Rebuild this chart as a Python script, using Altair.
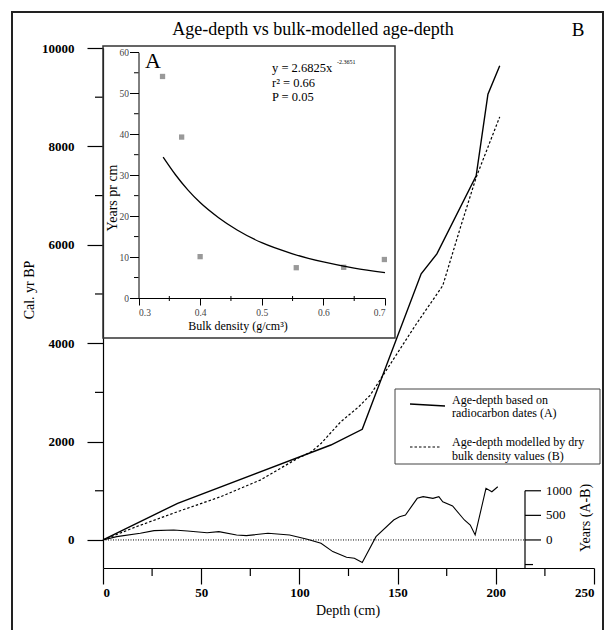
import altair as alt
import pandas as pd

# ---------------- data ----------------
depth_A = [0, 38, 116, 132, 162, 170, 190, 196, 202]
age_A = [0, 745, 1930, 2250, 5410, 5815, 7400, 9060, 9640]

depth_B = [0, 17, 38, 60, 80, 99, 106, 111, 121, 130, 136, 148, 159, 173, 182, 190, 202]
age_B = [0, 270, 575, 880, 1217, 1657, 1791, 1960, 2400, 2700, 2940, 3680, 4360, 5170, 6355, 7370, 8600]

depth_D = [0, 7, 19, 26, 36, 43, 53, 59, 68, 73, 84, 95, 104, 111, 117, 124, 128, 132,
           139, 148, 151, 154, 160, 163, 168, 171, 173, 178, 184, 187, 189.5, 195, 198, 201]
diff_D = [0, 67, 135, 189, 203, 182, 148, 169, 101, 88, 135, 101, 14, -67, -237, -351, -371, -460,
          67, 406, 473, 507, 846, 880, 846, 880, 777, 690, 406, 304, 101, 1049, 980, 1081]

bulk_density = [0.339, 0.370, 0.400, 0.556, 0.633, 0.699]
years_per_cm = [54.1, 39.3, 10.1, 7.4, 7.5, 9.4]

curve_x = [0.34, 0.36, 0.38, 0.40, 0.43, 0.46, 0.50, 0.55, 0.60, 0.65, 0.70]
curve_y = [34.4, 30.1, 26.4, 23.3, 19.6, 16.6, 13.5, 10.8, 8.8, 7.3, 6.2]

x_major = [0, 50, 100, 150, 200, 250]
x_minor = [25, 75, 125, 175, 225]
y_major = [0, 2000, 4000, 6000, 8000, 10000]
y_minor = [1000, 3000, 5000, 7000, 9000]
right_major = [1000, 500, 0]
right_labels = ["1000", "500", "0"]
right_minor = [-500]

ix_major = [0.3, 0.4, 0.5, 0.6, 0.7]
ix_minor = [0.35, 0.45, 0.55, 0.65]
iy_major = [0, 10, 20, 30, 40, 50, 60]
iy_minor = [5, 15, 25, 35, 45, 55]

FONT = "Liberation Serif"
W, H = 491, 520
one = pd.DataFrame({"k": [0]})


def xs():
    return alt.Scale(domain=[0, 250], range=[0, W], nice=False, zero=False)


def ys():
    return alt.Scale(domain=[-570, 10000], range=[H, 0], nice=False, zero=False)


def ixs():
    return alt.Scale(domain=[0.3, 0.7], range=[35.5, 282], nice=False, zero=False)


def iys():
    return alt.Scale(domain=[0, 60], range=[250, 4.3], nice=False, zero=False)


x_axis = alt.Axis(orient="bottom", values=x_major, tickSize=16, labelFont=FONT, labelFontSize=13,
                  labelFontWeight="bold", labelPadding=2, title=None, grid=False, format="d",
                  domainColor="black", tickColor="black",
                  labelColor="black", domainWidth=1.2, tickWidth=1.2)
y_axis = alt.Axis(orient="left", values=y_major, tickSize=16, labelFont=FONT, labelFontSize=13,
                  labelFontWeight="bold", labelPadding=13, title=None, grid=False, format="d",
                  domainColor="black", tickColor="black",
                  labelColor="black", domainWidth=1.2, tickWidth=1.2)
ix_axis = alt.Axis(orient="bottom", offset=-270, values=ix_major, tickSize=7, format=".1f",
                   labelFont=FONT, labelFontSize=9.5, labelColor="#444", labelPadding=2,
                   title=None, grid=False, domainColor="black", tickColor="black")
iy_axis = alt.Axis(orient="left", offset=-35.5, values=iy_major, tickSize=9, format="d",
                   labelFont=FONT, labelFontSize=9.5, labelColor="#444", labelPadding=1,
                   title=None, grid=False, domainColor="black", tickColor="black")


def txt(s, x, y, size=12, angle=0, align="center", weight="normal", baseline="middle"):
    kw = dict(align=align, baseline=baseline, font=FONT, fontSize=size, color="black",
              fontWeight=weight)
    if angle:
        kw["angle"] = angle
    return alt.Chart(one).mark_text(**kw).encode(
        x=alt.value(x), y=alt.value(y), text=alt.value(s))


def box(x, x2, y, y2, width=1.0, color="black"):
    return alt.Chart(one).mark_rect(filled=False, stroke=color, strokeWidth=width).encode(
        x=alt.value(x), x2=alt.value(x2), y=alt.value(y), y2=alt.value(y2))


def seg(x, x2, y, y2, width=1.3, dash=None):
    kw = dict(color="black", strokeWidth=width)
    if dash:
        kw["strokeDash"] = dash
    return alt.Chart(one).mark_rule(**kw).encode(
        x=alt.value(x), x2=alt.value(x2), y=alt.value(y), y2=alt.value(y2))


# ---------------- main chart ----------------
dfA = pd.DataFrame({"depth": depth_A, "age": age_A})
dfB = pd.DataFrame({"depth": depth_B, "age": age_B})
dfD = pd.DataFrame({"depth": depth_D, "age": diff_D})

line_A = alt.Chart(dfA).mark_line(color="black", strokeWidth=1.4).encode(
    x=alt.X("depth:Q", scale=xs(), axis=x_axis),
    y=alt.Y("age:Q", scale=ys(), axis=y_axis),
)
line_B = alt.Chart(dfB).mark_line(color="black", strokeWidth=1.2, strokeDash=[2.5, 2]).encode(
    x=alt.X("depth:Q", scale=xs(), axis=None),
    y=alt.Y("age:Q", scale=ys(), axis=None),
)
line_D = alt.Chart(dfD).mark_line(color="black", strokeWidth=1.1).encode(
    x=alt.X("depth:Q", scale=xs(), axis=None),
    y=alt.Y("age:Q", scale=ys(), axis=None),
)
zero_line = alt.Chart(pd.DataFrame({"v": [0]})).mark_rule(
    color="black", strokeWidth=1, strokeDash=[1, 1.5]).encode(
    y=alt.Y("v:Q", scale=ys(), axis=None), x=alt.value(0), x2=alt.value(422))

minor_x = alt.Chart(pd.DataFrame({"v": x_minor})).mark_rule(color="black", strokeWidth=1.2).encode(
    x=alt.X("v:Q", scale=xs(), axis=None), y=alt.value(H), y2=alt.value(H + 8))
minor_y = alt.Chart(pd.DataFrame({"v": y_minor})).mark_rule(color="black", strokeWidth=1.2).encode(
    y=alt.Y("v:Q", scale=ys(), axis=None), x=alt.value(-8), x2=alt.value(0))

# right-hand "Years (A-B)" axis
r_line = alt.Chart(pd.DataFrame({"a": [1000], "b": [-570]})).mark_rule(color="black", strokeWidth=1.2).encode(
    y=alt.Y("a:Q", scale=ys(), axis=None), y2="b:Q", x=alt.value(422))
r_ticks = alt.Chart(pd.DataFrame({"v": right_major})).mark_rule(color="black", strokeWidth=1.2).encode(
    y=alt.Y("v:Q", scale=ys(), axis=None), x=alt.value(422), x2=alt.value(438))
r_minor = alt.Chart(pd.DataFrame({"v": right_minor})).mark_rule(color="black", strokeWidth=1.2).encode(
    y=alt.Y("v:Q", scale=ys(), axis=None), x=alt.value(422), x2=alt.value(430))
r_labels = alt.Chart(pd.DataFrame({"v": right_major, "t": right_labels})).mark_text(
    align="left", baseline="middle", font=FONT, fontSize=13, color="black").encode(
    y=alt.Y("v:Q", scale=ys(), axis=None), x=alt.value(443), text="t:N")

frame = box(-91, 500, -36, 600, width=2, color="#222")
title = txt("Age-depth vs bulk-modelled age-depth", 210, -18, size=18)
label_B = txt("B", 475, -18, size=19)
ytitle = txt("Cal. yr BP", -73, 242, size=14, angle=270)
xtitle = txt("Depth (cm)", 245, 563, size=14)
rtitle = txt("Years (A-B)", 483, 470, size=14, angle=270)

legend_box = box(292, 497, 341, 416, width=1, color="#444")
leg_l1 = seg(307, 342, 356, 358, width=1.4)
leg_l2 = seg(307, 337, 399, 399, width=1.2, dash=[2.5, 2])
leg_t = [
    txt("Age-depth  based on", 349, 352, size=12, align="left"),
    txt("radiocarbon dates (A)", 349, 365, size=12, align="left"),
    txt("Age-depth modelled by dry", 349, 394, size=12, align="left"),
    txt("bulk density values (B)", 349, 408, size=12, align="left"),
]

# ---------------- inset chart ----------------
pts = alt.Chart(pd.DataFrame({"bd": bulk_density, "ypc": years_per_cm})).mark_square(
    size=28, color="#999999", opacity=1).encode(
    x=alt.X("bd:Q", scale=ixs(), axis=ix_axis),
    y=alt.Y("ypc:Q", scale=iys(), axis=iy_axis))
curve = alt.Chart(pd.DataFrame({"bd": curve_x, "ypc": curve_y})).mark_line(
    color="black", strokeWidth=1.3, interpolate="monotone").encode(
    x=alt.X("bd:Q", scale=ixs(), axis=None),
    y=alt.Y("ypc:Q", scale=iys(), axis=None))
i_minx = alt.Chart(pd.DataFrame({"v": ix_minor})).mark_rule(color="black", strokeWidth=1).encode(
    x=alt.X("v:Q", scale=ixs(), axis=None), y=alt.value(248), y2=alt.value(253))
i_miny = alt.Chart(pd.DataFrame({"v": iy_minor})).mark_rule(color="black", strokeWidth=1).encode(
    y=alt.Y("v:Q", scale=iys(), axis=None), x=alt.value(31), x2=alt.value(35.5))

inset_frame = box(0, 292, -2, 290, width=1.5, color="#333")
i_A = txt("A", 50, 13, size=22)
i_eq1 = txt("y = 2.6825x", 169, 20, size=12.5, align="left")
i_eq_sup = txt("-2.3651", 234, 14, size=6, align="left")
i_eq2 = txt("r\u00b2 = 0.66", 169, 35, size=12.5, align="left")
i_eq3 = txt("P = 0.05", 169, 49, size=12.5, align="left")
i_ytitle = txt("Years pr cm", 10, 150, size=14, angle=270)
i_xtitle = txt("Bulk density (g/cm\u00b3)", 135, 278, size=12)

layers = [frame, zero_line, line_D, line_B, line_A, minor_x, minor_y,
          r_line, r_ticks, r_minor, r_labels, title, label_B, ytitle, xtitle, rtitle,
          legend_box, leg_l1, leg_l2, *leg_t,
          inset_frame, pts, curve, i_minx, i_miny, i_A, i_eq1, i_eq_sup,
          i_eq2, i_eq3, i_ytitle, i_xtitle]

chart = alt.layer(*layers).resolve_scale(x="independent", y="independent").properties(
    width=W, height=H,
    padding={"left": 103, "top": 48, "right": 18, "bottom": 62},
    autosize=alt.AutoSizeParams(type="none"),
    background="white",
).configure_view(stroke=None).configure_axis(labelFont=FONT)

chart.save("out.html", embed_options={"renderer": "svg", "actions": False})
